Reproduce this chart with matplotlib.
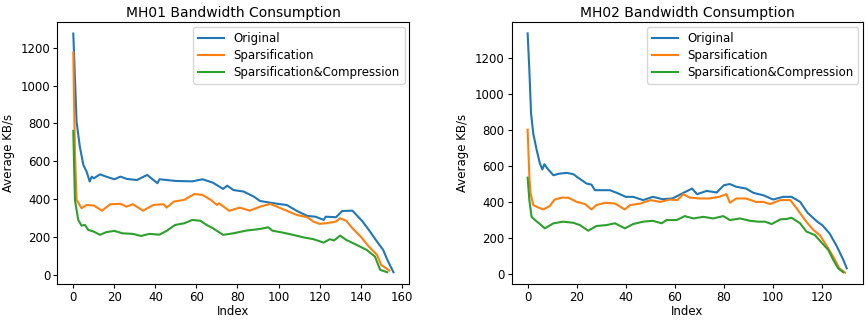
import matplotlib
matplotlib.use('Agg')
import matplotlib.pyplot as plt

# MH01 (left panel)
mh01_orig_x = [0, 1.6, 3.2, 4.9, 6.5, 8, 9, 10, 13, 16, 20, 23, 26, 31, 36, 41, 42, 50, 58, 63,
               68, 73, 75, 78, 83, 88, 91, 96, 101, 104, 109, 114, 118, 122, 123, 128, 131, 136,
               138, 141, 144, 148, 151, 153, 156]
mh01_orig_y = [1275, 808, 676, 580, 544, 492, 518, 509, 530, 518, 504, 518, 506, 500, 527, 483, 504,
               495, 493, 504, 486, 453, 470, 447, 439, 412, 389, 380, 372, 368, 336, 310, 306, 289,
               306, 303, 336, 338, 315, 280, 236, 174, 130, 78, 12]

mh01_sp_x = [0, 0.8, 1.6, 4, 6.5, 10, 14, 18, 23, 26, 29, 34, 39, 44, 45.5, 49, 54, 59, 63, 67, 70,
             71, 76, 81, 86, 91, 96, 101, 105, 109, 114, 117, 120, 123, 128, 130, 133, 136, 140,
             144, 148, 150, 154]
mh01_sp_y = [1175, 641, 395, 351, 368, 365, 338, 372, 374, 359, 372, 338, 368, 372, 354, 386, 395,
             426, 421, 395, 368, 377, 337, 354, 338, 359, 374, 351, 333, 315, 303, 280, 268, 271,
             280, 298, 284, 245, 201, 148, 104, 51, 21]

mh01_spc_x = [0, 0.8, 2.4, 4, 5.7, 7.3, 10, 13, 16, 20, 24, 29, 33, 37, 42, 45.5, 49.5, 54, 58, 62,
              65, 68, 73, 78, 84, 91, 95, 97, 102, 107, 112, 117, 122, 125, 127, 130, 133, 138,
              143, 147, 149.5, 153]
mh01_spc_y = [760, 395, 289, 259, 262, 236, 227, 210, 224, 231, 218, 215, 204, 215, 211, 231, 262,
              271, 289, 284, 262, 245, 210, 218, 232, 241, 250, 232, 222, 210, 197, 187, 169, 187,
              180, 206, 183, 157, 130, 95, 25, 12]

# MH02 (right panel)
mh02_orig_x = [0, 0.7, 1.4, 2.3, 3.7, 5, 6, 6.8, 8.4, 10.5, 13, 16, 18.6, 21, 24, 26, 27.4, 31,
               33.5, 36, 40, 43, 47, 51, 55, 59, 63, 67, 69, 73, 77, 80, 82.4, 85, 89, 92, 96, 100,
               104, 107.5, 111, 114, 118, 120, 123, 126, 128.6, 130]
mh02_orig_y = [1336, 1130, 890, 779, 687, 613, 580, 609, 580, 548, 557, 561, 554, 530, 502, 496, 465,
               465, 465, 452, 428, 428, 410, 428, 415, 419, 447, 474, 443, 461, 452, 493, 499, 484,
               474, 450, 437, 413, 428, 428, 400, 340, 290, 271, 225, 152, 78, 31]

mh02_sp_x = [0, 0.7, 1.2, 2.3, 4.3, 6.4, 9, 11, 14, 16.6, 20, 23.4, 26, 28, 31.5, 35.6, 39.6, 41.7,
             46, 50, 54, 58, 61, 63.4, 66, 70, 74, 78, 81, 82.4, 85, 89, 93, 96, 98.7, 103, 107,
             109.6, 113, 116.4, 119, 122, 124.5, 127, 129.3]
mh02_sp_y = [801, 539, 447, 382, 369, 358, 377, 413, 424, 423, 400, 388, 358, 382, 395, 391, 358, 382,
             391, 410, 400, 413, 410, 443, 424, 419, 419, 428, 443, 395, 419, 419, 400, 400, 388,
             410, 410, 364, 299, 244, 216, 152, 96, 31, 7]

mh02_spc_x = [0, 0.7, 1.6, 3, 5, 7, 10.5, 14.5, 18.6, 21.3, 24.7, 28, 32, 35.6, 39.6, 43, 47, 51,
              54.6, 56.6, 60.7, 64, 67.5, 71.6, 75.6, 79.7, 82.4, 86.5, 90.6, 94, 96.7, 99.4, 103,
              105.5, 107.5, 111, 113.6, 117, 120, 122.5, 124.5, 126.5, 128.6]
mh02_spc_y = [535, 410, 317, 299, 277, 253, 281, 290, 284, 271, 240, 266, 271, 281, 253, 277, 290,
              295, 281, 299, 299, 321, 308, 317, 308, 321, 299, 308, 295, 290, 290, 277, 303, 305,
              312, 281, 235, 216, 170, 133, 78, 31, 9]

labels = ['Original', 'Sparsification', 'Sparsification&Compression']
colors = ['#1f77b4', '#ff7f0e', '#2ca02c']

fig = plt.figure(figsize=(8.68, 3.2), dpi=100)
ax1 = fig.add_axes([0.066, 0.112, 0.4055, 0.818])
ax2 = fig.add_axes([0.5895, 0.112, 0.4044, 0.818])

panels = [
    (ax1, 'MH01 Bandwidth Consumption',
     [(mh01_orig_x, mh01_orig_y), (mh01_sp_x, mh01_sp_y), (mh01_spc_x, mh01_spc_y)],
     (-7.8, 163.7), (-51, 1334)),
    (ax2, 'MH02 Bandwidth Consumption',
     [(mh02_orig_x, mh02_orig_y), (mh02_sp_x, mh02_sp_y), (mh02_spc_x, mh02_spc_y)],
     (-6.5, 136.5), (-57, 1397)),
]

for ax, title, series, xl, yl in panels:
    for (x, y), lab, c in zip(series, labels, colors):
        ax.plot(x, y, color=c, lw=1.5, label=lab)
    ax.set_xlim(*xl)
    ax.set_ylim(*yl)
    ax.set_yticks(range(0, 1201, 200))
    ax.set_title(title, fontsize=10, pad=4)
    ax.set_xlabel('Index', fontsize=8.5, labelpad=1)
    ax.set_ylabel('Average KB/s', fontsize=8.5)
    ax.tick_params(labelsize=8.5, length=3, pad=2)
    ax.legend(loc='upper right', fontsize=8.5, handlelength=2.2, borderaxespad=0.4,
              labelspacing=0.35)

plt.savefig('out.png', dpi=100)
